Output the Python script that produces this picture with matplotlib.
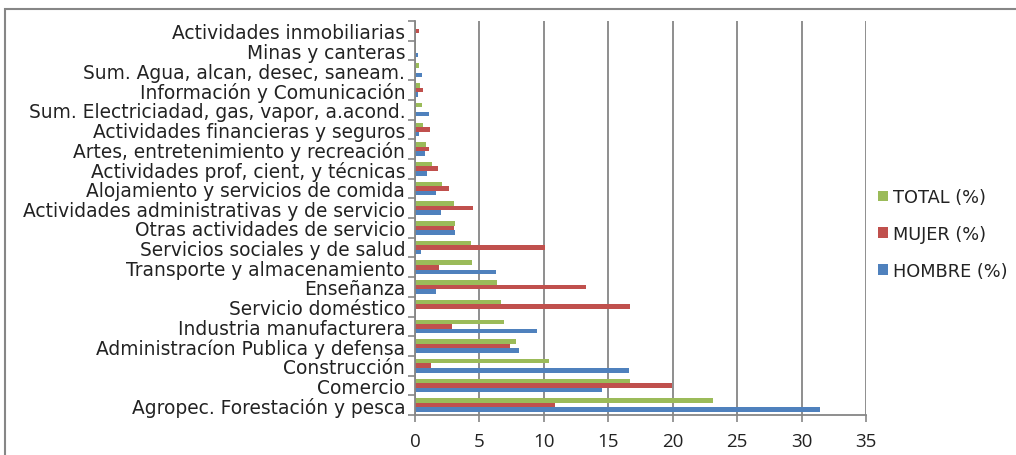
import matplotlib
matplotlib.use("Agg")
from matplotlib import pyplot as plt
from matplotlib.patches import Rectangle
import numpy as np

# sectors, listed bottom to top as drawn
sectores = ["Agropec. Forestación y pesca", "Comercio", "Construcción",
            "Administracíon Publica y defensa", "Industria manufacturera",
            "Servicio doméstico", "Enseñanza", "Transporte y almacenamiento",
            "Servicios sociales y de salud", "Otras actividades de servicio",
            "Actividades administrativas y de servicio",
            "Alojamiento y servicios de comida",
            "Actividades prof, cient, y técnicas",
            "Artes, entretenimiento y recreación",
            "Actividades financieras y seguros",
            "Sum. Electriciadad, gas, vapor, a.acond.",
            "Información y Comunicación",
            "Sum. Agua, alcan, desec, saneam.",
            "Minas y canteras", "Actividades inmobiliarias"]
hombre = [31.4, 14.55, 16.6, 8.1, 9.5, 0.0, 1.6, 6.25, 0.5, 3.1,
          2.0, 1.6, 0.95, 0.8, 0.3, 1.05, 0.2, 0.55, 0.2, 0.0]
mujer = [10.9, 19.95, 1.25, 7.4, 2.9, 16.7, 13.3, 1.9, 10.1, 3.0,
         4.5, 2.65, 1.75, 1.05, 1.15, 0.0, 0.65, 0.0, 0.0, 0.3]
total = [23.1, 16.7, 10.4, 7.85, 6.9, 6.7, 6.35, 4.45, 4.35, 3.1,
         3.0, 2.1, 1.35, 0.85, 0.65, 0.55, 0.4, 0.3, 0.1, 0.1]

azul = '#4F81BD'
rojo = '#C0504D'
verde = '#9BBB59'
gris = '#868686'
fuente = 'DejaVu Sans'

fig = plt.figure(figsize=(10.16, 4.56), dpi=100)
ax = fig.add_axes([415/1016, 40/456, 451/1016, 394/456])

y = np.arange(len(sectores))
h = 0.23
ax.barh(y - h, hombre, h, color=azul, label='HOMBRE (%)')
ax.barh(y, mujer, h, color=rojo, label='MUJER (%)')
ax.barh(y + h, total, h, color=verde, label='TOTAL (%)')

ax.set_xlim(0, 35)
ax.set_ylim(-0.5, len(sectores) - 0.5)
ax.set_xticks(np.arange(0, 36, 5))
ax.set_yticks(np.arange(-0.5, len(sectores), 1))
ax.set_yticklabels([])
ax.set_yticks(y, minor=True)
ax.set_yticklabels(sectores, minor=True, fontsize=13.4, fontfamily=fuente,
                   color='#222222')
ax.tick_params(axis='y', which='minor', length=0, pad=7)
ax.tick_params(axis='y', which='major', length=5, color=gris, width=1.2)
ax.tick_params(axis='x', length=5, color=gris, width=1.2, labelsize=13.5,
               pad=7, labelcolor='#222222')
for t in ax.get_xticklabels():
    t.set_fontfamily('Open Sans')

ax.grid(axis='x', color=gris, linewidth=1.3)
ax.set_axisbelow(True)
for s in ['top', 'right']:
    ax.spines[s].set_visible(False)
ax.spines['left'].set_color(gris)
ax.spines['bottom'].set_color(gris)
ax.spines['left'].set_linewidth(1.3)
ax.spines['bottom'].set_linewidth(1.3)

handles, labels = ax.get_legend_handles_labels()
leg = ax.legend(handles[::-1], labels[::-1], loc='center left',
                bbox_to_anchor=(862/1016, 221/456), bbox_transform=fig.transFigure,
                frameon=False, prop={'family': fuente, 'size': 12.8},
                handlelength=0.55, handleheight=0.55, handletextpad=0.3,
                labelspacing=1.05)
for t in leg.get_texts():
    t.set_color('#222222')

# outer chart border
fig.patches.append(Rectangle((5/1016, -0.1), 1.2, 1 - 10/456 + 0.1,
                             transform=fig.transFigure, fill=False,
                             edgecolor=gris, linewidth=1.5))

fig.savefig('out.png', dpi=100)
